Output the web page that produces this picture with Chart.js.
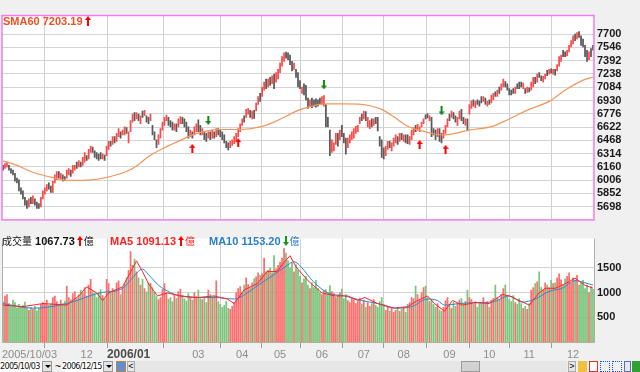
<!DOCTYPE html>
<html>
<head>
<meta charset="utf-8">
<script src="https://cdn.jsdelivr.net/npm/chart.js@4.4.0/dist/chart.umd.min.js"></script>
<style>
  body { margin: 0; width: 640px; height: 372px; background: #f0f0f0; position: relative; overflow: hidden; font-family: "Liberation Sans", Arial, sans-serif; }
  canvas { position: absolute; left: 0; }
  #priceChart { top: 0; }
  #volChart { top: 229px; }
  .legend { position: absolute; font-size: 11px; font-weight: bold; line-height: 13px; white-space: nowrap; }
  .cjk { font-family: "Noto Sans CJK TC", sans-serif; font-weight: normal; font-size: 10px; }
  .legend svg { vertical-align: -1px; margin: 0 1px 0 2px; }
  .tb { position: absolute; top: 361px; height: 11px; box-sizing: border-box; }
  .date { background: #fff; color: #111; font: 9px "Liberation Sans Narrow", "DejaVu Sans Condensed", sans-serif; line-height: 11px; letter-spacing: -0.7px; white-space: nowrap; overflow: hidden; }
  .btn { background: #e4e4e4; border: 1px solid #9a9a9a; }
  .btn:after { content: ""; position: absolute; left: 2px; top: 3px; border: 3px solid transparent; border-top: 3px solid #000; }
</style>
</head>
<body>
<canvas id="priceChart" width="640" height="229"></canvas>
<canvas id="volChart" width="640" height="131"></canvas>

<div class="legend" style="left:3px;top:15px;color:#f05020">SMA60 7203.19<svg width="6" height="10"><path d="M3 0L6 4H4V10H2V4H0Z" fill="#ff0000"/></svg></div>
<div class="legend" style="left:2px;top:234px;color:#111"><span class="cjk">成交量</span> 1067.73<svg width="6" height="10"><path d="M3 0L6 4H4V10H2V4H0Z" fill="#ff0000"/></svg><span class="cjk">億</span></div>
<div class="legend" style="left:110px;top:234px;color:#ff2020">MA5 1091.13<svg width="6" height="10"><path d="M3 0L6 4H4V10H2V4H0Z" fill="#ff0000"/></svg><span class="cjk">億</span></div>
<div class="legend" style="left:209px;top:234px;color:#2a7ccc">MA10 1153.20<svg width="6" height="10"><path d="M3 10L6 6H4V0H2V6H0Z" fill="#119911"/></svg><span class="cjk">億</span></div>

<div class="tb date" style="left:0;width:42px">2005/10/03</div>
<div class="tb btn" style="left:42px;width:10px"></div>
<div class="tb" style="left:55px;font-size:10px;line-height:11px">~</div>
<div class="tb date" style="left:62px;width:41px">2006/12/15</div>
<div class="tb btn" style="left:103px;width:10px"></div>
<div class="tb" style="left:116px;width:10px;background:#5b8fd8;border:1px solid #c08040"></div>
<div class="tb" style="left:127px;width:8px;background:#e8e8e8;border:1px solid #aaa;font-size:9px;line-height:9px;text-align:center">&lt;</div>
<div class="tb" style="left:135px;width:432px;background:#e6e6e6"></div>
<div class="tb" style="left:461px;width:19px;background:#d2d2d2;border:1px solid #9a9a9a"></div>
<div class="tb" style="left:568px;width:8px;background:#e8e8e8;border:1px solid #aaa;font-size:9px;line-height:9px;text-align:center">&gt;</div>
<div class="tb" style="left:578px;width:9px;background:#f0c040"></div>
<div class="tb" style="left:589px;width:9px;background:#fff;border:1px solid #e03030"></div>
<div class="tb" style="left:600px;width:10px;border:1px dotted #2050d0"></div>
<div class="tb" style="left:612px;width:10px;border:1px dotted #2050d0"></div>
<div class="tb" style="left:624px;width:7px;background:#e8e8e8;border:1px solid #5070c0"></div>
<div class="tb" style="left:632px;width:8px;background:#30a030"></div>

<script>
// 月份刻度 (交易日序號)
const monthIdx = [0, 42, 63, 98, 120, 139, 160, 181, 201, 224, 244, 264, 286];
const monthLabels = ['2005/10/03', '12', '2006/01', '03', '04', '05', '06', '07', '08', '09', '10', '11', '12'];
const yearStart = '2006/01';
const priceTicks = [7700, 7546, 7392, 7238, 7084, 6930, 6776, 6622, 6468, 6314, 6160, 6006, 5852, 5698];
const volTicks = [500, 1000, 1500];

// K線 (開/收)
const opens = [
  6177,6140,6159,6177,6140,6122,6085,6029,6010,5917,
  5880,5806,5769,5694,5806,5732,5787,5750,5732,5694,
  5787,5843,5880,5973,5936,5862,5973,6010,6103,6010,
  6066,6047,6029,6066,6122,6085,6122,6214,6159,6214,
  6177,6214,6289,6252,6326,6389,6344,6326,6307,6326,
  6252,6296,6289,6363,6456,6419,6511,6456,6511,6567,
  6530,6530,6615,6437,6567,6679,6790,6716,6771,6660,
  6808,6753,6753,6734,6697,6641,6567,6474,6419,6493,
  6586,6641,6697,6734,6697,6679,6586,6660,6623,6660,
  6734,6716,6679,6623,6511,6567,6530,6567,6705,6641,
  6530,6567,6548,6493,6567,6493,6567,6511,6604,6586,
  6567,6530,6456,6437,6381,6407,6430,6467,6511,6567,
  6641,6753,6734,6771,6816,6716,6816,6808,6883,7013,
  6976,7050,7180,7087,7198,7124,7236,7143,7180,7254,
  7328,7384,7492,7484,7458,7384,7291,7291,7254,7161,
  7013,7124,7106,6957,6864,6957,6938,6950,6938,6957,
  6883,6864,6883,6734,6586,6326,6344,6419,6548,6474,
  6641,6548,6493,6381,6437,6474,6493,6548,6567,6660,
  6771,6716,6801,6623,6604,6716,6641,6734,6734,6511,
  6474,6381,6289,6363,6456,6344,6400,6437,6511,6456,
  6548,6456,6530,6530,6419,6474,6530,6641,6586,6567,
  6623,6660,6764,6779,6697,6734,6604,6586,6511,6604,
  6548,6493,6548,6623,6771,6734,6790,6753,6641,6716,
  6827,6734,6641,6716,6771,6838,6938,6846,6938,6927,
  6976,6920,6957,6864,6938,6901,6938,7031,6976,7087,
  7050,7087,7150,7124,7068,7050,7068,7013,7124,7143,
  7143,7068,7068,7024,7076,7050,7087,7198,7143,7254,
  7217,7143,7180,7280,7236,7299,7236,7291,7273,7328,
  7384,7514,7495,7447,7495,7551,7588,7700,7644,7729,
  7681,7644,7570,7514,7403,7533,7570
];
const closes = [
  6122,6196,6214,6122,6085,6066,5992,5973,5880,5843,
  5787,5713,5676,5787,5732,5824,5713,5676,5676,5806,
  5880,5917,5954,5899,5862,5992,6066,6103,6029,6085,
  5992,6010,6122,6140,6047,6177,6177,6140,6233,6159,
  6270,6326,6233,6363,6400,6326,6270,6252,6233,6252,
  6307,6233,6400,6456,6400,6511,6437,6548,6604,6493,
  6586,6623,6548,6567,6697,6771,6697,6790,6697,6753,
  6734,6816,6679,6660,6771,6530,6474,6381,6530,6604,
  6679,6734,6760,6641,6623,6586,6660,6567,6716,6742,
  6660,6623,6567,6493,6586,6493,6623,6660,6567,6530,
  6604,6474,6456,6567,6474,6586,6493,6604,6530,6511,
  6474,6437,6381,6355,6456,6474,6511,6548,6604,6660,
  6716,6679,6827,6838,6734,6808,6723,6901,6976,6920,
  7087,7143,7068,7180,7106,7217,7068,7254,7291,7366,
  7440,7484,7421,7403,7347,7273,7366,7198,7087,7068,
  7087,6994,6938,6838,6938,6846,6864,6853,6864,6883,
  6976,6987,6623,6623,6289,6474,6437,6548,6400,6586,
  6511,6437,6307,6493,6530,6567,6604,6630,6641,6734,
  6697,6808,6697,6734,6697,6623,6716,6660,6578,6400,
  6270,6252,6400,6456,6381,6437,6493,6530,6419,6548,
  6474,6530,6437,6430,6511,6586,6615,6567,6652,6623,
  6679,6716,6716,6727,6753,6511,6530,6474,6604,6456,
  6437,6586,6641,6716,6697,6808,6716,6679,6734,6808,
  6697,6660,6716,6586,6883,6927,6864,6920,6883,6864,
  6901,6976,6883,6920,6883,6994,7013,6976,7050,7013,
  7124,7180,7087,7050,6994,6994,7013,7087,7068,7068,
  7087,7132,7013,7087,7031,7143,7198,7124,7236,7198,
  7161,7210,7236,7217,7291,7247,7291,7225,7347,7440,
  7458,7440,7440,7514,7570,7625,7681,7625,7718,7662,
  7570,7551,7440,7384,7495,7440,7514
];

// 成交量 (億)
const volumes = [
  820,930,960,780,720,850,800,690,760,700,
  740,810,680,640,700,660,720,630,680,760,
  800,770,850,740,780,900,930,820,760,850,
  780,830,1130,900,860,980,1020,880,950,1050,
  990,1100,930,1150,1270,1020,980,900,1010,1060,
  940,880,1270,1180,1000,1080,1050,1200,1240,960,
  1100,1180,1300,1450,1830,1550,1680,1420,1300,1150,
  1270,1080,1010,1200,1190,1100,1000,920,860,900,
  1060,1180,990,870,900,820,960,880,1020,1070,
  950,880,830,980,900,850,1000,920,1050,880,
  860,900,800,1050,960,890,930,1240,820,760,
  700,740,820,680,660,720,800,1000,1080,1120,
  1000,1150,1300,1160,1100,1200,1280,1320,1400,1350,
  1380,1700,1420,1450,1500,1400,1750,1480,1550,1620,
  1700,1890,1800,1650,1500,1600,1420,1560,1450,1330,
  1200,1280,1330,1150,1080,1200,1100,1250,1080,1000,
  960,1040,1060,1000,1140,1020,980,900,950,1000,
  1070,880,960,840,800,900,860,780,820,890,
  760,850,700,800,720,780,860,740,700,820,
  900,760,640,700,620,680,600,640,700,620,
  660,700,600,760,800,900,880,1130,960,860,
  1000,1100,1130,900,820,860,760,700,780,650,
  620,700,840,900,760,680,800,720,780,850,
  880,780,820,1050,900,860,760,820,700,780,
  800,900,760,820,700,850,880,1150,900,860,
  960,1080,1150,920,860,820,940,800,760,880,
  780,680,720,660,780,1050,1100,1180,1220,1420,
  1100,1050,1200,1150,1100,1250,1180,1200,1300,1380,
  1260,1150,1280,1330,1400,1200,1300,1250,1350,1150,
  1200,1250,1080,1150,1000,1120,1068
];

// SMA60 (讀圖取點)
const smaIdx = [0, 7, 15, 26, 32, 40, 52, 63.5, 68.5, 73, 81, 89, 95, 102.5, 108.5, 119, 129, 136, 142.5, 147.5, 155, 161.5, 171.5, 183, 190, 196.5, 203, 210, 216.5, 221.5, 234, 245.5, 254, 264, 274, 282, 290.5, 296];
const smaVal = [6226, 6177, 6096, 6029, 6003, 6003, 6036, 6122, 6196, 6280, 6381, 6467, 6530, 6578, 6593, 6593, 6623, 6679, 6753, 6809, 6864, 6890, 6890, 6875, 6827, 6734, 6630, 6578, 6541, 6530, 6586, 6630, 6716, 6827, 6920, 7050, 7161, 7203];

// 量 MA5 / MA10
const ma5Idx = [0, 10, 20, 32, 38, 42, 47, 50, 53, 60, 65, 67, 70, 73, 77.5, 82.5, 89, 97.5, 106, 112.5, 116, 121, 127.5, 132.5, 137.5, 141, 144, 147, 153, 160, 166.5, 173, 178, 181.5, 188, 196.5, 203, 208, 213, 216.5, 221.5, 225.5, 230.5, 237, 244, 250.5, 254, 259, 264, 269, 272, 277, 282, 287, 292, 296];
const ma5Val = [747, 716, 778, 747, 932, 1117, 994, 840, 994, 1117, 1490, 1642, 1426, 1179, 932, 994, 932, 901, 932, 870, 778, 1056, 1179, 1426, 1426, 1611, 1747, 1520, 1241, 994, 932, 932, 840, 901, 778, 685, 716, 840, 932, 778, 623, 840, 747, 797, 778, 963, 932, 840, 747, 994, 1087, 1087, 1179, 1290, 1148, 1091];
const ma10Idx = [0, 15, 32, 48.5, 60, 65, 70, 73, 78, 84, 89, 97.5, 106, 116, 122.5, 129, 136, 142.5, 146, 150, 155, 163, 171.5, 180, 188, 196.5, 205, 213, 218, 221.5, 229, 237, 245.5, 254, 260.5, 267, 274, 280.5, 287, 292, 296];
const ma10Val = [778, 685, 778, 994, 1087, 1303, 1475, 1364, 1150, 1000, 932, 901, 901, 870, 994, 1179, 1364, 1549, 1624, 1500, 1250, 994, 932, 840, 778, 685, 716, 870, 840, 747, 778, 797, 809, 932, 809, 870, 1025, 1087, 1241, 1198, 1153];

// 買賣訊號
const upIdx = [95, 118, 209, 222];
const upVal = [6374, 6441, 6419, 6363];
const downIdx = [103, 161, 220];
const downVal = [6697, 7110, 6809];

const N = closes.length;
const FONT = '"Liberation Sans", Arial, sans-serif';

function arrowImg(color, up) {
  const c = document.createElement('canvas');
  c.width = 6; c.height = 9;
  const g = c.getContext('2d');
  g.fillStyle = color;
  g.beginPath();
  if (up) {
    g.moveTo(3, 0); g.lineTo(6, 4); g.lineTo(4, 4); g.lineTo(4, 9); g.lineTo(2, 9); g.lineTo(2, 4); g.lineTo(0, 4);
  } else {
    g.moveTo(3, 9); g.lineTo(6, 5); g.lineTo(4, 5); g.lineTo(4, 0); g.lineTo(2, 0); g.lineTo(2, 5); g.lineTo(0, 5);
  }
  g.closePath();
  g.fill();
  return c;
}

const isUp = i => closes[i] >= opens[i];
const candleData = closes.map((c, i) => ({ x: i, y: [opens[i], c] }));
const candleColors = closes.map((c, i) => isUp(i) ? '#ff4a4a' : '#5a5a5a');
const volData = volumes.map((v, i) => ({ x: i, y: v }));
const volColors = volumes.map((v, i) => isUp(i) ? '#ff6e6e' : '#7cc47c');
const pts = (xs, ys) => xs.map((x, i) => ({ x: x, y: ys[i] }));

const xBase = {
  type: 'linear', min: -0.5, max: N - 0.5, bounds: 'data', offset: false,
  afterBuildTicks: s => { s.ticks = monthIdx.map(v => ({ value: v })); },
  ticks: { display: false, autoSkip: false },
  border: { display: false }
};

const whiteBg = {
  id: 'whiteBg',
  beforeDraw(chart) {
    const a = chart.chartArea, g = chart.ctx;
    g.save();
    g.fillStyle = '#ffffff';
    g.fillRect(a.left, a.top, a.right - a.left, a.bottom - a.top);
    g.restore();
  }
};

const pinkFrame = {
  id: 'pinkFrame',
  afterDraw(chart) {
    const a = chart.chartArea, g = chart.ctx;
    g.save();
    g.strokeStyle = '#f07cf0';
    g.lineWidth = 1.5;
    g.strokeRect(a.left, a.top + 0.5, a.right - a.left, a.bottom - a.top);
    g.restore();
  }
};

const volFrame = {
  id: 'volFrame',
  afterDraw(chart) {
    const a = chart.chartArea, g = chart.ctx, xs = chart.scales.x;
    g.save();
    g.strokeStyle = '#b4aca4';
    g.lineWidth = 1;
    g.beginPath();
    g.moveTo(a.left + 0.5, a.top); g.lineTo(a.left + 0.5, a.bottom + 0.5);
    g.lineTo(a.right + 0.5, a.bottom + 0.5); g.lineTo(a.right + 0.5, a.top);
    g.stroke();
    // 月份文字
    g.textBaseline = 'middle';
    monthLabels.forEach((lab, k) => {
      const bold = lab === yearStart;
      g.font = (bold ? 'bold 12px ' : '11px ') + FONT;
      g.fillStyle = bold ? '#4c4c4c' : '#8c8c8c';
      g.textAlign = k === 0 ? 'left' : 'center';
      const px = k === 0 ? a.left : xs.getPixelForValue(monthIdx[k]);
      g.fillText(lab, px, a.bottom + 12.5);
    });
    g.restore();
  }
};

const yTickFont = { family: FONT, size: 11, weight: 'bold' };

new Chart(document.getElementById('priceChart'), {
  type: 'bar',
  data: {
    datasets: [
      { type: 'line', data: pts(upIdx, upVal), showLine: false, pointStyle: arrowImg('#ff0000', true), pointRadius: 4, order: 0 },
      { type: 'line', data: pts(downIdx, downVal), showLine: false, pointStyle: arrowImg('#118811', false), pointRadius: 4, order: 0 },
      { type: 'line', data: pts(smaIdx, smaVal), borderColor: '#f4965c', borderWidth: 1.2, pointRadius: 0, cubicInterpolationMode: 'monotone', order: 1 },
      { type: 'bar', data: candleData, backgroundColor: candleColors, barThickness: 1.1, order: 2 }
    ]
  },
  options: {
    responsive: false,
    animation: false,
    layout: { padding: { left: 2, top: 15, right: 0, bottom: 1 }, autoPadding: false },
    plugins: { legend: { display: false }, tooltip: { enabled: false } },
    scales: {
      x: Object.assign({}, xBase, {
        grid: { color: '#d0d0d0', drawTicks: false },
        afterFit: s => { s.height = 0; }
      }),
      y: {
        position: 'right', min: 5549, max: 7923, bounds: 'data',
        afterBuildTicks: s => { s.ticks = priceTicks.map(v => ({ value: v })); },
        ticks: { color: '#1a1a1a', font: yTickFont, padding: 3, autoSkip: false, callback: v => String(v) },
        grid: { color: '#d4d4d4', drawTicks: false },
        border: { display: false },
        afterFit: s => { s.width = 46; }
      }
    }
  },
  plugins: [whiteBg, pinkFrame]
});

new Chart(document.getElementById('volChart'), {
  type: 'bar',
  data: {
    datasets: [
      { type: 'line', data: pts(ma5Idx, ma5Val), borderColor: '#ff2424', borderWidth: 1, pointRadius: 0, order: 0 },
      { type: 'line', data: pts(ma10Idx, ma10Val), borderColor: '#2f86d6', borderWidth: 1, pointRadius: 0, cubicInterpolationMode: 'monotone', order: 1 },
      { type: 'bar', data: volData, backgroundColor: volColors, barThickness: 1.1, order: 2 }
    ]
  },
  options: {
    responsive: false,
    animation: false,
    layout: { padding: { left: 2, top: 0, right: 0, bottom: 0 }, autoPadding: false },
    plugins: { legend: { display: false }, tooltip: { enabled: false } },
    scales: {
      x: Object.assign({}, xBase, {
        grid: { color: '#d0d0d0', drawTicks: true, tickLength: 6, tickColor: '#9a9a9a' },
        afterFit: s => { s.height = 18; }
      }),
      y: {
        position: 'right', min: 0, max: 2093, bounds: 'data',
        afterBuildTicks: s => { s.ticks = volTicks.map(v => ({ value: v })); },
        ticks: { color: '#1a1a1a', font: yTickFont, padding: 3, autoSkip: false, callback: v => String(v) },
        grid: { color: '#d4d4d4', drawTicks: false },
        border: { display: false },
        afterFit: s => { s.width = 46; }
      }
    }
  },
  plugins: [whiteBg, volFrame]
});
</script>
</body>
</html>
